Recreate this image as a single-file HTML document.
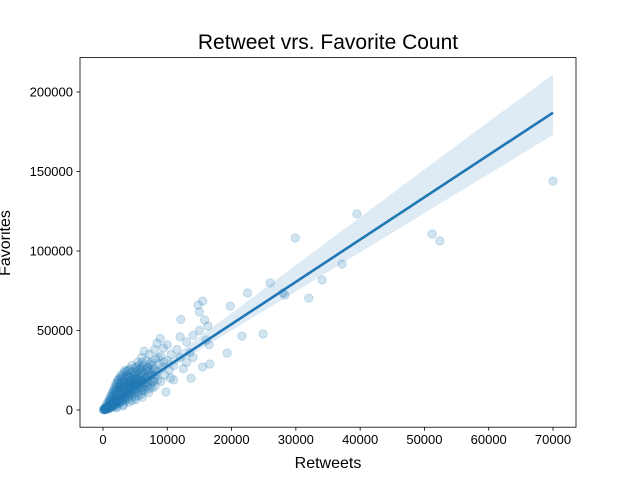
<!DOCTYPE html>
<html><head><meta charset="utf-8"><style>
body{margin:0;background:#fff}
svg{display:block;font-family:"Liberation Sans","DejaVu Sans",sans-serif}
</style></head><body>
<svg id="chart" width="640" height="480" viewBox="0 0 640 480">
<rect width="640" height="480" fill="#fff"/>
<text x="328" y="49" text-anchor="middle" font-size="21" fill="#000">Retweet vrs. Favorite Count</text>
<g id="band"></g><g id="pts"></g><g id="line"></g><g id="axes"></g>
<text x="328" y="468" text-anchor="middle" font-size="16">Retweets</text>
<text transform="translate(10,243) rotate(-90)" text-anchor="middle" font-size="16">Favorites</text>
</svg>
<script>
const points = [[0.1,0.3],[0.2,0.5],[0.3,0.9],[0.4,1.2],[0.5,1],[0.6,2],[0.7,1.5],[0.8,2.5],[0.9,3],[1,2],[1,4],[1.1,3.5],[1.2,5],[1.3,2.8],[1.4,6],[1.5,4],[1.6,7],[1.7,3.5],[1.8,8],[1.9,5],[2,10],[2,6],[2.1,4],[2.2,12],[2.3,8],[2.4,5],[2.5,14],[2.6,10],[2.7,7],[2.8,16],[2.9,12],[3,9],[3,18],[3.1,6],[3.2,14],[3.3,20],[3.4,11],[3.5,16],[3.6,8],[3.7,22],[3.8,13],[3.9,18],[4,10],[4,25],[4.1,15],[4.2,20],[4.3,12],[4.4,23],[4.5,17],[4.6,9],[4.7,21],[4.8,14],[4.9,26],[5,19],[5,12],[5.2,24],[5.3,16],[5.4,30],[5.5,20],[5.6,13],[5.8,26],[5.9,18],[6,33],[6,22],[6.2,15],[6.3,28],[6.4,37],[6.5,20],[6.7,25],[6.8,31],[7,17],[7,27],[7.2,35],[7.4,22],[7.5,30],[7.7,14],[7.8,26],[8,38],[8,20],[8.2,32],[8.4,42],[8.5,24],[8.7,29],[8.9,45],[9,34],[9,18],[9.2,27],[9.4,39],[9.6,22],[9.8,11.3],[10,31],[10,41],[10.3,25],[10.6,35],[11,28],[11,19],[11.5,38],[12,33],[12,46],[12.1,57],[12.5,26],[13,42.8],[13,30],[13.5,36],[13.7,20],[14,47],[14,33],[14.8,66],[15,61.6],[15,50],[15.5,68.5],[15.5,27],[15.8,56.6],[16,44],[16.3,52.8],[16.6,28.9],[16.5,41],[19.3,35.8],[19.8,65.4],[21.6,46.5],[22.5,73.6],[24.9,47.8],[26,79.9],[28,73.6],[28.3,72.3],[29.9,108.2],[32,70.4],[34.1,81.8],[37.2,91.8],[39.5,123.3],[51.2,110.7],[52.4,106.3],[70,144],
[0.5,2.5],[1,1],[1.5,2],[2,3],[2.5,4.5],[3,5],[3.5,6],[4,7],[1.2,1.5],[0.3,0.2],[0.8,0.8],[2.2,2],[3.2,3.5],[4.5,6],[5,8],[6,10],[3,12],[2,15],[4,18],[5,15],[6,18],[7,21],[8,25],[5.5,9],[6.5,12],[7.5,16],[3.5,24],[4.5,28],[2.5,17],[1.5,11],[2.8,20],[3.8,21],[4.2,16],[5.2,20],[1.8,13],[2.3,19],[3.3,15],[4.8,22],[5.8,16],[6.2,25],[1,6],[1.5,9],[2.6,13],[3.6,11],[4.4,14],[0.6,4],[0.2,1],[0.4,0.6],[1.3,3],[2.1,8],[3.1,10],[4.1,12],[5.1,17],[6.1,14],[7.1,24],
[0.1,0.1],[0.2,0.2],[0.3,0.5],[0.4,0.3],[0.5,0.6],[0.6,0.9],[0.7,0.5],[0.9,1.3],[1.1,1.9],[1.4,1.8],[1.6,2.6],[1.8,3],[2,4.2],[2.2,5.5],[2.4,6.5],[2.6,5],[2.8,6.5],[3,7.5],[3.2,8.5],[3.4,7],[3.6,9.5],[3.8,10.5],[4,8.5],[4.2,10],[4.4,11],[4.6,12.5],[4.8,10.5],[5,13.5],[5.3,11],[5.6,14.5],[6,12],[6.4,13],[6.8,15],[7.2,13.5],[7.6,18],[0.8,5],[1,7],[1.2,8.5],[1.4,10],[1.6,12],[1.8,14],[2,16.5],[2.2,17],[2.4,18.5],[2.6,20],[2.8,22],[3,21],[3.2,23],[3.4,25],[3.6,19],[3.8,24.5],[4,21],[4.2,26],[4.4,19],[4.6,24],[4.8,18],[5,23],[5.2,27],[5.4,22],[5.6,25],[5.8,21],[6,27],[6.2,19],[6.4,23],[6.6,17],[6.8,21],[7,19],[7.3,25],[7.6,22],[7.9,18],[8.2,22],[8.5,19],[1.1,5.5],[1.3,7.5],[1.7,9.5],[1.9,11],[2.1,13],[2.3,14.5],[2.5,11.5],[2.7,15],[2.9,17.5],[3.1,13],[3.3,17],[3.5,13.5],[3.7,15],[3.9,16],[4.1,13.5],[4.3,17.5],[4.5,15.5],[4.7,16.5],[4.9,19.5],[5.1,15],[5.3,18.5],[5.5,17],[5.7,19],[5.9,23.5],[6.3,17],[6.6,19.5],[6.9,26],[7.3,29],[7.7,28],[6.1,30],[5.6,28],[3.1,2.5],[2.1,1.5],[4.1,5],[5.1,6.5],[6.1,8],[7.1,11],[8.1,15],[8.6,33],[9.5,30],[10.5,20]];
const fitX = [0,10000,20000,30000,40000,50000,60000,70000];
const ciUpOff = [1500,3500,7000,10500,14000,17500,21000,24000];
const ciLoOff = [1500,2000,4000,6000,8000,10000,12000,14000];
const slope = 2.66, intercept = 800;
const xTicks = [0,10000,20000,30000,40000,50000,60000,70000];
const yTicks = [0,50000,100000,150000,200000];
const L=80,R=576,T=57.6,B=427.2;
const xs=v=>103+v*450/70000;
const ys=v=>410-v*318/200000;
const ns="http://www.w3.org/2000/svg";
function mk(p,t,a){const e=document.createElementNS(ns,t);for(const k in a)e.setAttribute(k,a[k]);document.getElementById(p).appendChild(e);return e;}
let up=[],lo=[];
fitX.forEach((x,i)=>{const y=intercept+slope*x;up.push(xs(x)+','+ys(y+ciUpOff[i]));lo.unshift(xs(x)+','+ys(y-ciLoOff[i]));});
const band=mk('band','polygon',{points:up.concat(lo).join(' '),fill:'#1f77b4','fill-opacity':0.15});


points.forEach(p=>{const c=mk('pts','circle',{cx:xs(p[0]*1000),cy:ys(p[1]*1000),r:4.2,fill:'#1f77b4','fill-opacity':0.2,stroke:'#1f77b4','stroke-opacity':0.2});

});
const ln=mk('line','line',{x1:xs(0),y1:ys(intercept),x2:xs(70000),y2:ys(intercept+slope*70000),stroke:'#1f77b4','stroke-width':2.6});


const fr=mk('axes','rect',{x:L,y:T,width:R-L,height:B-T,fill:'none',stroke:'#000','stroke-width':0.8});


xTicks.forEach(v=>{mk('axes','line',{x1:xs(v),x2:xs(v),y1:B,y2:B+3.5,stroke:'#000','stroke-width':0.8});
const t=mk('axes','text',{x:xs(v),y:B+17,'text-anchor':'middle','font-size':13});t.textContent=v;

});
yTicks.forEach(v=>{mk('axes','line',{x1:L-3.5,x2:L,y1:ys(v),y2:ys(v),stroke:'#000','stroke-width':0.8});
const t=mk('axes','text',{x:L-7,y:ys(v)+4.5,'text-anchor':'end','font-size':13});t.textContent=v;

});
</script>
</body></html>
